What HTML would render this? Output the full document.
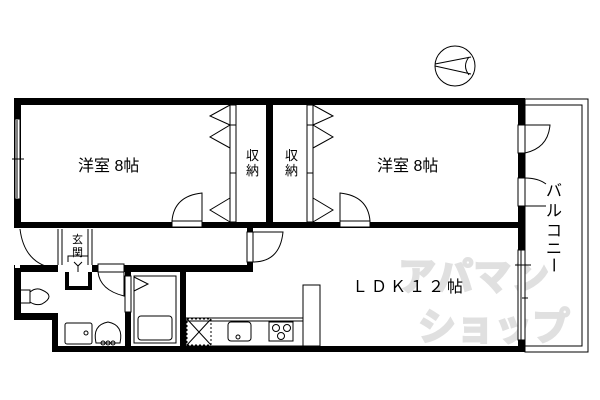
<!DOCTYPE html>
<html><head><meta charset="utf-8"><style>
html,body{margin:0;padding:0;background:#fff;width:600px;height:400px;overflow:hidden}
svg{display:block}
text{font-family:"Liberation Sans","Noto Sans CJK JP",sans-serif;fill:#000}
</style></head><body>
<svg width="600" height="400" viewBox="0 0 600 400" xmlns="http://www.w3.org/2000/svg">
<text x="398" y="290" font-size="38" font-weight="bold" style="fill:#e0e0e0;font-family:'Noto Sans CJK JP',sans-serif;stroke:#e0e0e0;stroke-width:2">アパマン</text>
<text x="418" y="340" font-size="38" font-weight="bold" style="fill:#e0e0e0;font-family:'Noto Sans CJK JP',sans-serif;stroke:#e0e0e0;stroke-width:2">ショップ</text>
<g fill="none" stroke="#000" stroke-width="1">
<circle cx="455" cy="66" r="20"/>
<path d="M435 64 L471 57 M435 66 L471 74 M469 57 Q462 66 469 75"/>
<rect x="525" y="99" width="63" height="253"/>
<rect x="525" y="105" width="57" height="241"/>
</g>
<g fill="#000">
<rect x="14" y="98" width="511" height="7"/>
<rect x="14" y="98" width="7" height="130"/>
<rect x="518" y="98" width="7" height="254"/>
<rect x="14" y="222" width="511" height="6"/>
<rect x="266" y="98" width="7" height="130"/>
<rect x="14" y="265" width="239" height="7"/>
<rect x="247" y="228" width="6" height="44"/>
<rect x="14" y="265" width="7" height="55"/>
<rect x="14" y="313" width="44" height="7"/>
<rect x="52" y="313" width="6" height="39"/>
<rect x="52" y="346" width="473" height="6"/>
<rect x="125" y="312" width="6" height="40"/>
<rect x="125" y="268" width="6" height="8"/>
<rect x="180" y="268" width="6" height="84"/>
<rect x="65" y="268" width="27" height="22"/>
</g>
<g fill="#fff" stroke="#000" stroke-width="1">
<rect x="15" y="119" width="5" height="80"/>
<rect x="69" y="268" width="19" height="18" stroke="none"/>
<rect x="172" y="221" width="30" height="6"/>
<rect x="340" y="221" width="30" height="6"/>
<rect x="15" y="228" width="5" height="40" stroke="none"/>
<rect x="58" y="264" width="34" height="8" stroke="none"/>
<rect x="98" y="264" width="26" height="8"/>
<rect x="125" y="276" width="6" height="36"/>
<rect x="247" y="232" width="6" height="30"/>
<rect x="518" y="125" width="7" height="28"/>
<rect x="518" y="178" width="7" height="28"/>
<rect x="518" y="250" width="7" height="90"/>
<rect x="230" y="105" width="6" height="117"/>
<rect x="307" y="105" width="6" height="117"/>
</g>
<g fill="none" stroke="#000" stroke-width="1">
<path d="M12 159 L24 159 M17 120 L17 198"/>
<path d="M20 229 Q24 262 52 268"/>
<path d="M58 229 L58 265 M62 229 L62 265 M88 229 L88 265 M92 229 L92 265"/>
<path d="M68 262 L68 256 L88 256 L88 262 M74 262 L78 266 L82 262 M78 266 L78 272"/>
<path d="M202 221 L202 193 Q174 196 172 221"/>
<path d="M340 221 L340 193 Q368 196 370 221"/>
<path d="M253 232 L283 232 Q280 262 253 262"/>
<path d="M124 272 L124 296 Q100 290 98 272"/>
<path d="M525 125 L550 125 Q548 148 525 153"/>
<path d="M525 178 Q538 178 546 184 M525 206 L546 206"/>
<path d="M521 250 L521 340 M522 298 L528 298 M515 265 L531 265"/>
<path d="M230 105 L210 116 L230 125 L210 137 L230 148 M230 198 L210 210 L230 222"/>
<path d="M313 105 L333 116 L313 125 L333 137 L313 148 M313 198 L333 210 L313 222"/>
<path d="M230 125 L236 125 M230 173 L236 173 M307 125 L313 125 M307 173 L313 173"/>
<path d="M21 290 L30 290 L30 303 L21 303 M30 292 Q36 287 42 290 Q56 296 42 304 Q36 306 30 302"/>
<rect x="65" y="323" width="27" height="21" rx="2"/>
<circle cx="86" cy="333" r="2"/>
<path d="M96 343 Q92 325 108 322 Q124 325 120 343 Z"/>
<circle cx="103" cy="343" r="2"/><circle cx="108" cy="343" r="2"/><circle cx="113" cy="343" r="2"/>
<rect x="134" y="276" width="42" height="67"/>
<rect x="138" y="316" width="34" height="24" rx="3"/>
<path d="M134 277 L148 284 L134 291"/>
<rect x="186" y="318" width="117" height="28"/>
<path d="M186 321 L303 321"/>
<rect x="187" y="319" width="24" height="26" stroke-dasharray="2,2"/>
<path d="M187 319 L211 345 M211 319 L187 345"/>
<rect x="228" y="322" width="23" height="19" rx="3"/>
<circle cx="238" cy="337" r="2"/>
<rect x="269" y="322" width="24" height="19"/>
<circle cx="276" cy="328" r="3.5"/><circle cx="287" cy="328" r="3.5"/><circle cx="281" cy="336" r="3.5"/>
<rect x="303" y="285" width="17" height="61"/>
</g>
<text x="78" y="171" font-size="16">洋室 8帖</text>
<text x="377" y="171" font-size="16">洋室 8帖</text>
<text x="246" y="160" font-size="13">収</text>
<text x="246" y="175" font-size="13">納</text>
<text x="285" y="160" font-size="13">収</text>
<text x="285" y="175" font-size="13">納</text>
<text x="72" y="243" font-size="11">玄</text>
<text x="72" y="256" font-size="11">関</text>
<text x="352" y="292" font-size="16" letter-spacing="3">ＬＤＫ１２帖</text>
<g font-size="16">
<text x="546" y="196">バ</text>
<text x="546" y="216">ル</text>
<text x="546" y="236">コ</text>
<text x="546" y="254">ニ</text>
<text x="0" y="0" transform="translate(554,257) rotate(90) translate(0,6)">ー</text>
</g>
</svg>
</body></html>
